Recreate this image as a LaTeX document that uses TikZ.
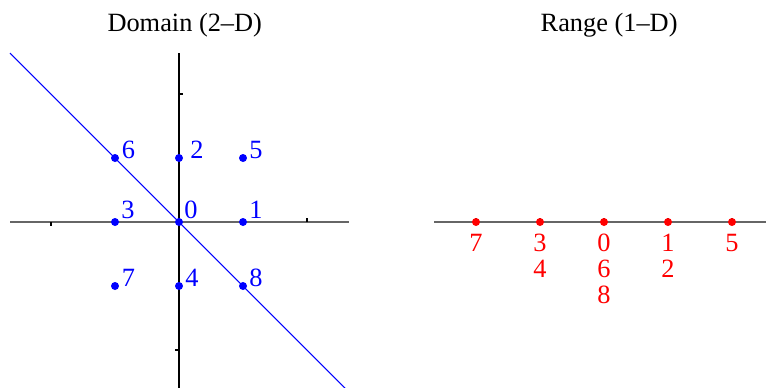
\documentclass[tikz,border=0pt]{standalone}
\usepackage{fontspec}
\setmainfont{Liberation Serif}
\usetikzlibrary{positioning}

\begin{document}
\begin{tikzpicture}[
  x=1.28cm, y=1.28cm,
  every node/.style={inner sep=0pt},
  title/.style={font=\fontsize{15}{18}\selectfont, anchor=base},
  haxis/.style={line width=0.9pt, black!60},
  vaxis/.style={line width=0.6pt, black},
  tick/.style={line width=0.6pt, black},
  bdot/.style={circle, fill=blue, minimum size=0.16cm},
  rdot/.style={circle, fill=red, minimum size=0.16cm},
  blab/.style={text=blue, font=\fontsize{15}{18}\selectfont, anchor=base west},
  rlab/.style={text=red, font=\fontsize{15}{18}\selectfont, anchor=base}
]
  \useasboundingbox (-2.797,-2.578) rectangle (9.172,3.469);

  \node[title] (dtitle) at (0.09,2.97) {Domain (2--D)};
  \coordinate (hl) at (-2.64,0);
  \coordinate (hr) at (2.66,0);
  \coordinate (vt) at (0,2.64);
  \coordinate (vb) at (0,-2.6);
  \draw[haxis] (hl) -- (hr);
  \draw[vaxis] (vt) -- (vb);
  \draw[tick] (-2,0) -- ++(0,-0.0625);
  \draw[tick] (2,0) -- ++(0,0.0625);
  \draw[tick] (0,2) -- ++(0.0625,0);
  \draw[tick] (0,-2) -- ++(-0.0625,0);

  \coordinate (ltop) at (-2.64,2.64);
  \coordinate (lbot) at (2.6,-2.6);
  \draw[blue, line width=0.6pt] (ltop) -- (lbot);

  \foreach \i/\x/\y/\dx/\dy in {0/0/0/0.1/0.08, 1/1/0/0.12/0.08, 2/0/1/0.22/0,
      3/-1/0/0.12/0.08, 4/0/-1/0.12/0, 5/1/1/0.12/0, 6/-1/1/0.13/0,
      7/-1/-1/0.13/0, 8/1/-1/0.12/0} {
    \node[bdot] (d\i) at (\x,\y) {};
    \node[blab] (dn\i) at ([xshift=\dx cm, yshift=\dy cm]d\i.center) {\i};
  }

  \begin{scope}[xshift=8.5cm]
    \node[title] (rtitle) at (0.08,2.97) {Range (1--D)};
    \coordinate (rl) at (-2.656,0);
    \coordinate (rr) at (2.7,0);
    \draw[haxis] (rl) -- (rr);
    \foreach \v in {-2,...,2}
      \draw[tick] (\v,0) -- ++(0,0.0625);
    \foreach \n/\v in {1/-2, 2/-1, 3/0, 4/1, 5/2}
      \node[rdot] (r\n) at (\v,0) {};
    \foreach \i/\n/\k in {7/1/0, 3/2/0, 4/2/1, 0/3/0, 6/3/1, 8/3/2, 1/4/0, 2/4/1, 5/5/0}
      \node[rlab] (rn\i) at ([yshift=-0.58cm-\k*0.52cm]r\n.center) {\i};
  \end{scope}
\end{tikzpicture}
\end{document}
